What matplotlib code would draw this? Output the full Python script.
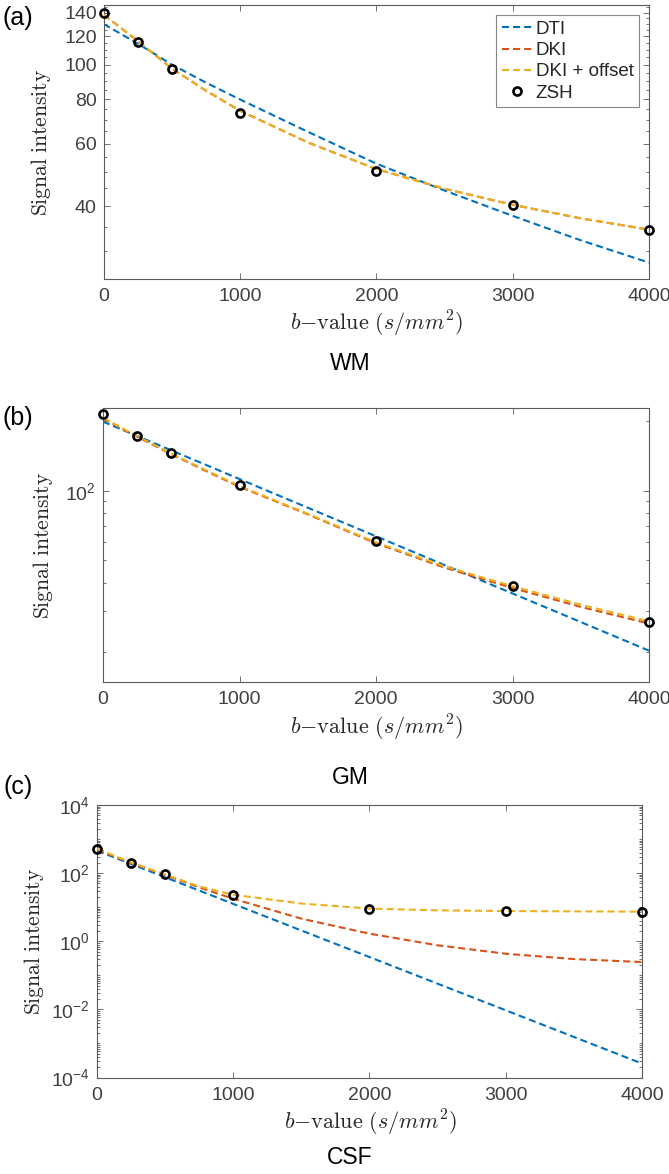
import matplotlib
matplotlib.use("Agg")
import matplotlib.pyplot as plt
from matplotlib.ticker import FixedLocator, LogLocator, NullFormatter, FixedFormatter

plt.rcParams['mathtext.fontset'] = 'cm'
plt.rcParams['font.family'] = ['Liberation Sans', 'DejaVu Sans']

# ---------------- data ----------------
b_pts = [0, 250, 500, 1000, 2000, 3000, 4000]
b_fit = [0, 250, 500, 750, 1000, 1500, 2000, 2500, 3000, 3500, 4000]

wm_zsh = [140, 116, 97, 73.2, 50.4, 40.4, 34.4]
wm_dti = [130, 114.5, 100, 89, 79.8, 64.7, 52.7, 44.3, 37.6, 32.1, 27.8]
wm_dki = [138, 116.5, 97.5, 84.5, 74.2, 60.4, 50.9, 44.8, 40.4, 37.0, 34.4]
wm_dkio = [138, 116.5, 97.5, 84.5, 74.2, 60.4, 50.9, 44.8, 40.4, 37.0, 34.4]

gm_zsh = [214, 172, 145.6, 106, 60.7, 38.6, 27.0]
gm_dti = [199, 172.5, 149.5, 129.6, 112.3, 84.4, 63.5, 47.7, 35.9, 27.0, 20.3]
gm_dki = [205, 171, 144, 122, 104, 79, 59.2, 46.5, 37.9, 31.4, 26.6]
gm_dkio = [207, 172, 144.7, 123, 104.8, 79.5, 59.7, 47.1, 38.6, 32.1, 27.2]

csf_zsh = [527, 205, 91.4, 22.2, 8.64, 7.55, 7.22]
csf_dti = [457, 186, 75.6, 30.8, 12.5, 2.07, 0.343, 0.0568, 0.00939, 0.00155, 0.000257]
csf_dki = [490, 200, 88, 38, 17.7, 4.6, 1.67, 0.76, 0.43, 0.30, 0.245]
csf_dkio = [520, 205, 91, 40.7, 23.2, 12.8, 9.1, 8.07, 7.72, 7.55, 7.4]

x_ticks = [0, 1000, 2000, 3000, 4000]
wm_yticks = [40, 60, 80, 100, 120, 140]
wm_minor = [25, 30, 35, 45, 50, 55, 65, 70, 75, 85, 90, 95, 105, 110, 115, 125, 130, 135, 145]
csf_yticks = [1e-4, 1e-2, 1e0, 1e2, 1e4]
csf_ylabels = [r'$\mathregular{10^{-4}}$', r'$\mathregular{10^{-2}}$', r'$\mathregular{10^{0}}$',
               r'$\mathregular{10^{2}}$', r'$\mathregular{10^{4}}$']

series_names = ['DTI', 'DKI', 'DKI + offset', 'ZSH']
panel_titles = ['WM', 'GM', 'CSF']
panel_tags = ['(a)', '(b)', '(c)']

# ---------------- styling ----------------
W, H = 669, 1174
C_DTI = '#0072BD'
C_DKI = '#D95319'
C_DKIO = '#EDB120'
TXT = '#404040'
AX = '#5a5a5a'

fig = plt.figure(figsize=(W / 100, H / 100), dpi=100)


def box(l, t, r, b):
    return [l / W, 1 - b / H, (r - l) / W, (b - t) / H]


def P(x, y):
    return x / W, 1 - y / H


ax_boxes = [box(103.7, 5, 649, 279), box(103, 408, 649, 681.7), box(97, 805, 642, 1077.5)]
ylims = [(25, 147), (14.9, 228), (1e-4, 1e4)]
data = [(wm_dti, wm_dki, wm_dkio, wm_zsh),
        (gm_dti, gm_dki, gm_dkio, gm_zsh),
        (csf_dti, csf_dki, csf_dkio, csf_zsh)]
xlabel_y = [324, 728, 1123]
xlabel_x = [376, 376, 370]
title_y = [363, 778, 1157]
tag_y = [18, 418, 787]
ylabel_x = [41, 43, 34]
ylabel_y = [142, 545, 941]

dash = (3.4, 1.9)
axes = []
for i in range(3):
    ax = fig.add_axes(ax_boxes[i])
    axes.append(ax)
    dti, dki, dkio, zsh = data[i]
    ax.plot(b_fit, dti, color=C_DTI, lw=1.5, dashes=dash, label=series_names[0], zorder=2)
    ax.plot(b_fit, dki, color=C_DKI, lw=1.5, dashes=dash, label=series_names[1], zorder=3)
    ax.plot(b_fit, dkio, color=C_DKIO, lw=1.5, dashes=dash, label=series_names[2], zorder=4)
    ax.plot(b_pts, zsh, linestyle='none', marker='o', ms=5.8, mew=1.9, mec='black',
            mfc='none', label=series_names[3], zorder=5, clip_on=False)
    ax.set_yscale('log')
    ax.set_xlim(0, 4000)
    ax.set_ylim(*ylims[i])
    ax.set_xticks(x_ticks)
    ax.set_xticklabels([str(v) for v in x_ticks])
    for s in ax.spines.values():
        s.set_color(AX)
        s.set_linewidth(0.8)
    ax.tick_params(which='both', direction='in', top=True, right=True, colors=AX,
                   labelcolor=TXT, labelsize=14, width=0.6)
    ax.tick_params(which='major', length=4.5)
    ax.tick_params(which='minor', length=2.5)
    ax.tick_params(axis='x', pad=6.5)
    ax.tick_params(axis='y', pad=5)

    fig.text(*P(xlabel_x[i], xlabel_y[i]), r'$b\mathrm{-value}\ (s/mm^2)$', ha='center',
             va='center', fontsize=16, color='#262626')
    fig.text(*P(ylabel_x[i], ylabel_y[i]), r'$\mathrm{Signal\ intensity}$', rotation=90,
             ha='center', va='center', fontsize=15.5, color='#262626')
    fig.text(*P(350, title_y[i]), panel_titles[i], ha='center', va='center', fontsize=16.5,
             color='black')
    fig.text(*P(18, tag_y[i]), panel_tags[i], ha='center', va='center', fontsize=18,
             color='black')

# panel (a) ticks and legend
ax = axes[0]
ax.yaxis.set_major_locator(FixedLocator(wm_yticks))
ax.yaxis.set_major_formatter(FixedFormatter([str(v) for v in wm_yticks]))
ax.yaxis.set_minor_locator(FixedLocator(wm_minor))
ax.yaxis.set_minor_formatter(NullFormatter())
leg = ax.legend(loc='upper right', bbox_to_anchor=(0.982, 0.963), fontsize=13.5,
                frameon=True, fancybox=False, handlelength=1.65, handletextpad=0.15,
                borderpad=0.3, labelspacing=0.22, borderaxespad=0.0)
leg.get_frame().set_edgecolor('#6a6a6a')
leg.get_frame().set_linewidth(0.8)
for t in leg.get_texts():
    t.set_color('#262626')

# panel (b) ticks
ax = axes[1]
ax.yaxis.set_major_locator(FixedLocator([100]))
ax.yaxis.set_major_formatter(FixedFormatter([r'$\mathregular{10^{2}}$']))
ax.yaxis.set_minor_locator(LogLocator(base=10, subs=[2, 3, 4, 5, 6, 7, 8, 9], numticks=20))
ax.yaxis.set_minor_formatter(NullFormatter())

# panel (c) ticks
ax = axes[2]
ax.yaxis.set_major_locator(FixedLocator(csf_yticks))
ax.yaxis.set_major_formatter(FixedFormatter(csf_ylabels))
ax.yaxis.set_minor_locator(LogLocator(base=10, subs=[1, 2, 3, 4, 5, 6, 7, 8, 9], numticks=40))
ax.yaxis.set_minor_formatter(NullFormatter())

fig.savefig('out.png', dpi=100)
